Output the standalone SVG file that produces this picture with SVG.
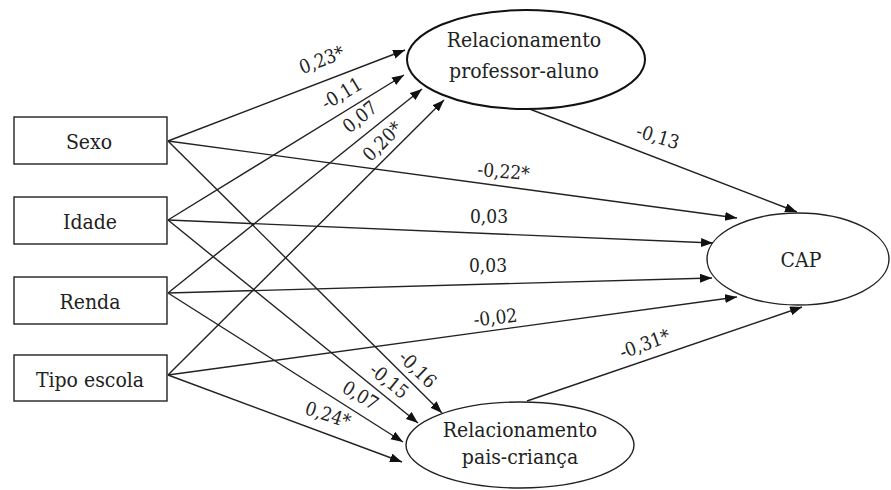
<svg xmlns="http://www.w3.org/2000/svg" width="891" height="490" viewBox="0 0 891 490">
  <style>
    .box { fill: #fff; stroke: #222; stroke-width: 1.4; }
    .ell { fill: #fff; stroke: #222; stroke-width: 1.4; }
    .ell-bold { fill: #fff; stroke: #111; stroke-width: 2; }
    .node-text { font-family: "DejaVu Serif Condensed", "DejaVu Serif", serif; font-stretch: condensed; font-size: 21px; fill: #222; text-anchor: middle; }
    .edge { fill: none; stroke: #222; stroke-width: 1.4; marker-end: url(#arrow); }
    .lbl { font-family: "DejaVu Serif Condensed", "DejaVu Serif", serif; font-stretch: condensed; font-size: 19px; fill: #222; text-anchor: middle; }
  </style>
  <defs>
    <marker id="arrow" markerUnits="userSpaceOnUse" markerWidth="13" markerHeight="10" refX="12" refY="4.5" orient="auto">
      <path d="M0,0 L12,4.5 L0,9 Z" fill="#111"/>
    </marker>
  </defs>

  <rect width="891" height="490" fill="#fff"/>

  <!-- connectors -->
  <g id="connectors">
    <!-- into Relacionamento professor-aluno -->
    <line class="edge" x1="168" y1="141" x2="405" y2="50"/>
    <line class="edge" x1="168" y1="220" x2="404" y2="75"/>
    <line class="edge" x1="168" y1="293" x2="422" y2="89"/>
    <line class="edge" x1="168" y1="375" x2="444" y2="100"/>
    <!-- into CAP -->
    <line class="edge" x1="527" y1="108" x2="797" y2="212"/>
    <line class="edge" x1="168" y1="141" x2="737" y2="218"/>
    <line class="edge" x1="168" y1="220" x2="713" y2="243"/>
    <line class="edge" x1="168" y1="293" x2="712" y2="278"/>
    <line class="edge" x1="168" y1="375" x2="737" y2="297"/>
    <line class="edge" x1="527" y1="401" x2="802" y2="307"/>
    <!-- into Relacionamento pais-criança -->
    <line class="edge" x1="168" y1="141" x2="442" y2="413"/>
    <line class="edge" x1="168" y1="220" x2="418" y2="423"/>
    <line class="edge" x1="168" y1="293" x2="403" y2="442"/>
    <line class="edge" x1="168" y1="375" x2="402" y2="462"/>

    <!-- coefficients -->
    <text class="lbl" transform="translate(324,66) rotate(-21)">0,23*</text>
    <text class="lbl" transform="translate(345,99) rotate(-31)">-0,11</text>
    <text class="lbl" transform="translate(364,122) rotate(-39)">0,07</text>
    <text class="lbl" transform="translate(387,146) rotate(-45)">0,20*</text>
    <text class="lbl" transform="translate(656,143) rotate(17)">-0,13</text>
    <text class="lbl" transform="translate(503,178) rotate(5)">-0,22*</text>
    <text class="lbl" transform="translate(489,223)">0,03</text>
    <text class="lbl" transform="translate(488,272)">0,03</text>
    <text class="lbl" transform="translate(496,324) rotate(-6)">-0,02</text>
    <text class="lbl" transform="translate(647,350) rotate(-20)">-0,31*</text>
    <text class="lbl" transform="translate(413,374) rotate(44)">-0,16</text>
    <text class="lbl" transform="translate(385,386) rotate(39)">-0,15</text>
    <text class="lbl" transform="translate(357,401) rotate(31)">0,07</text>
    <text class="lbl" transform="translate(326,421) rotate(18)">0,24*</text>
  </g>

  <!-- observed variables -->
  <g id="sexo">
    <rect class="box" x="14" y="117" width="153" height="47"/>
    <text class="node-text" x="89" y="149">Sexo</text>
  </g>
  <g id="idade">
    <rect class="box" x="14" y="197" width="153" height="47"/>
    <text class="node-text" x="90" y="229">Idade</text>
  </g>
  <g id="renda">
    <rect class="box" x="14" y="277" width="153" height="47"/>
    <text class="node-text" x="90" y="309">Renda</text>
  </g>
  <g id="tipo-escola">
    <rect class="box" x="14" y="355" width="153" height="46"/>
    <text class="node-text" x="90" y="387">Tipo escola</text>
  </g>

  <!-- latent variables -->
  <g id="rel-professor-aluno">
    <ellipse class="ell-bold" cx="526" cy="59.5" rx="119" ry="49.5"/>
    <text class="node-text" x="524" y="47">Relacionamento</text>
    <text class="node-text" x="524" y="78">professor-aluno</text>
  </g>
  <g id="cap">
    <ellipse class="ell" cx="798" cy="259" rx="91" ry="46"/>
    <text class="node-text" x="801" y="267">CAP</text>
  </g>
  <g id="rel-pais-crianca">
    <ellipse class="ell" cx="520" cy="445" rx="114" ry="43"/>
    <text class="node-text" x="520" y="437">Relacionamento</text>
    <text class="node-text" x="520" y="464">pais-criança</text>
  </g>
</svg>
